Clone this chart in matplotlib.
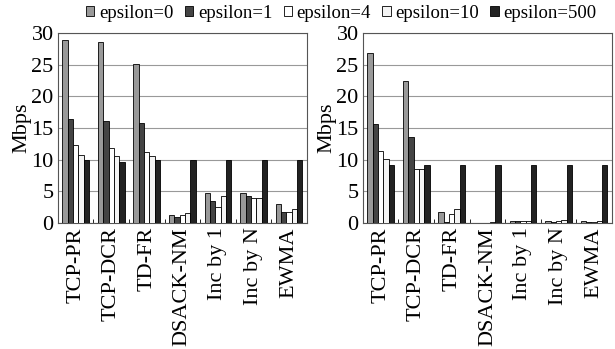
import matplotlib.pyplot as plt
import numpy as np

plt.rcParams['font.family'] = ['Liberation Serif', 'DejaVu Serif']

categories = ['TCP-PR', 'TCP-DCR', 'TD-FR', 'DSACK-NM', 'Inc by 1', 'Inc by N', 'EWMA']
series = ['epsilon=0', 'epsilon=1', 'epsilon=4', 'epsilon=10', 'epsilon=500']
colors = ['#999999', '#444444', '#ffffff', '#f4f4f4', '#222222']

# left panel
left = [
    [28.9, 28.6, 25.2, 1.2, 4.7, 4.8, 3.0],
    [16.5, 16.1, 15.8, 1.0, 3.5, 4.3, 1.7],
    [12.3, 11.8, 11.2, 1.2, 2.5, 3.9, 1.7],
    [10.8, 10.6, 10.6, 1.6, 4.2, 4.0, 2.2],
    [9.9, 9.7, 10.0, 10.0, 10.0, 10.0, 10.0],
]
# right panel
right = [
    [26.8, 22.4, 1.7, 0.05, 0.3, 0.3, 0.3],
    [15.7, 13.6, 0.2, 0.05, 0.3, 0.2, 0.1],
    [11.4, 8.6, 1.5, 0.05, 0.3, 0.3, 0.1],
    [10.1, 8.6, 2.2, 0.2, 0.3, 0.5, 0.3],
    [9.2, 9.2, 9.2, 9.2, 9.2, 9.2, 9.2],
]

fig = plt.figure(figsize=(6.15, 3.49), dpi=100)
ax1 = fig.add_axes([0.094, 0.361, 0.405, 0.544])
ax2 = fig.add_axes([0.590, 0.361, 0.405, 0.544])

x = np.arange(len(categories))
w = 0.15
for ax, data in [(ax1, left), (ax2, right)]:
    for i, vals in enumerate(data):
        ax.bar(x + (i - 2) * w, vals, w, color=colors[i], edgecolor='black',
               linewidth=0.6, label=series[i], zorder=3)
    ax.set_ylim(0, 30)
    ax.set_xlim(-0.5, len(categories) - 0.5)
    ax.set_yticks(range(0, 31, 5))
    ax.yaxis.grid(True, color='#999999', linewidth=0.8, zorder=0)
    ax.set_xticks(x)
    ax.set_xticklabels(categories, rotation=90, fontsize=16)
    ax.tick_params(axis='y', labelsize=16, length=0, pad=3)
    ax.tick_params(axis='x', length=0, pad=3)
    ax.set_xticks(np.arange(-0.5, len(categories), 1), minor=True)
    ax.tick_params(axis='x', which='minor', length=3, direction='in')
    ax.set_ylabel('Mbps', fontsize=16, labelpad=0)
    for s in ax.spines.values():
        s.set_color('#555555')
        s.set_linewidth(0.8)

handles, labels = ax1.get_legend_handles_labels()
fig.legend(handles, labels, loc='upper center', bbox_to_anchor=(0.555, 1.035), ncol=5,
           frameon=False, fontsize=13.5, handlelength=0.45, handleheight=0.45,
           handletextpad=0.25, columnspacing=0.6)

fig.savefig('out.png', dpi=100)
